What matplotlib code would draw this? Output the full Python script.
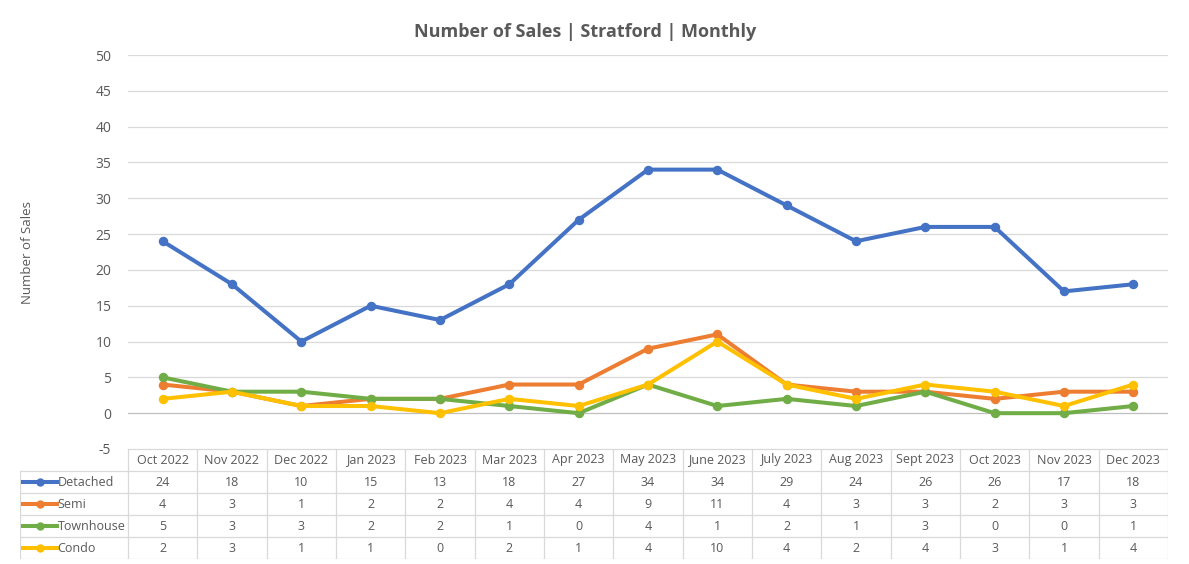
import matplotlib
matplotlib.use("Agg")
import matplotlib.pyplot as plt
from matplotlib.lines import Line2D

months = ["Oct 2022", "Nov 2022", "Dec 2022", "Jan 2023", "Feb 2023", "Mar 2023",
          "Apr 2023", "May 2023", "June 2023", "July 2023", "Aug 2023", "Sept 2023",
          "Oct 2023", "Nov 2023", "Dec 2023"]
series_names = ["Detached", "Semi", "Townhouse", "Condo"]
detached = [24, 18, 10, 15, 13, 18, 27, 34, 34, 29, 24, 26, 26, 17, 18]
semi = [4, 3, 1, 2, 2, 4, 4, 9, 11, 4, 3, 3, 2, 3, 3]
townhouse = [5, 3, 3, 2, 2, 1, 0, 4, 1, 2, 1, 3, 0, 0, 1]
condo = [2, 3, 1, 1, 0, 2, 1, 4, 10, 4, 2, 4, 3, 1, 4]
series_values = [detached, semi, townhouse, condo]
colors = ["#4472C4", "#ED7D31", "#70AD47", "#FFC000"]

plt.rcParams["font.family"] = ["Open Sans", "DejaVu Sans"]
plt.rcParams["axes.unicode_minus"] = False
TXT = "#595959"
GRID = "#D9D9D9"

W, H = 1189, 564
fig = plt.figure(figsize=(W / 100, H / 100), dpi=100, facecolor="white")


def box(x0, y0, x1, y1):
    return [x0 / W, 1 - y1 / H, (x1 - x0) / W, (y1 - y0) / H]


ax = fig.add_axes(box(128, 55, 1168, 449))
n = len(months)
xs = list(range(n))
for vals, col in zip(series_values, colors):
    ax.plot(xs, vals, color=col, lw=2.9, marker="o", markersize=5.8,
            solid_capstyle="round", solid_joinstyle="round", zorder=3)
ax.set_xlim(-0.5, n - 0.5)
ax.set_ylim(-5, 50)
ax.set_yticks(range(-5, 51, 5))
ax.set_xticks([])
ax.tick_params(axis="y", length=0, labelsize=10, labelcolor=TXT, pad=12)
for y in range(-5, 51, 5):
    ax.axhline(y, color="#BFBFBF" if y == 0 else GRID, lw=0.9, zorder=1)
for s in ax.spines.values():
    s.set_visible(False)
ax.set_ylabel("Number of Sales", fontsize=9.5, color=TXT, labelpad=44)

fig.text(585 / W, 1 - 32 / H, "Number of Sales | Stratford | Monthly",
         ha="center", va="center", fontsize=13, fontweight="bold", color=TXT)

# data table
tax = fig.add_axes(box(20, 449, 1168, 559))
lab_w = (128 - 20) / (1040 / n)
tax.set_xlim(-0.5 - lab_w, n - 0.5)
tax.set_ylim(5, 0)
tax.axis("off")
left = -0.5 - lab_w
tax.plot([-0.5, n - 0.5], [0, 0], color=GRID, lw=0.9)
for r in range(1, 6):
    tax.plot([left, n - 0.5], [r, r], color=GRID, lw=0.9)
tax.plot([left, left], [1, 5], color=GRID, lw=0.9)
for c in range(n + 1):
    tax.plot([c - 0.5, c - 0.5], [0, 5], color=GRID, lw=0.9)
for i, m in enumerate(months):
    tax.text(i, 0.5, m, ha="center", va="center", fontsize=9, color=TXT)
for r, (name, vals, col) in enumerate(zip(series_names, series_values, colors), start=1):
    for i, v in enumerate(vals):
        tax.text(i, r + 0.5, str(v), ha="center", va="center", fontsize=9, color=TXT)
    x0 = left + 0.04
    x1 = left + 0.53
    tax.add_line(Line2D([x0, x1], [r + 0.5, r + 0.5], color=col, lw=2.9))
    tax.plot([(x0 + x1) / 2], [r + 0.5], "o", color=col, markersize=5)
    tax.text(x1 + 0.01, r + 0.5, name, ha="left", va="center", fontsize=9, color=TXT)

fig.savefig("out.png", dpi=100, facecolor="white")
